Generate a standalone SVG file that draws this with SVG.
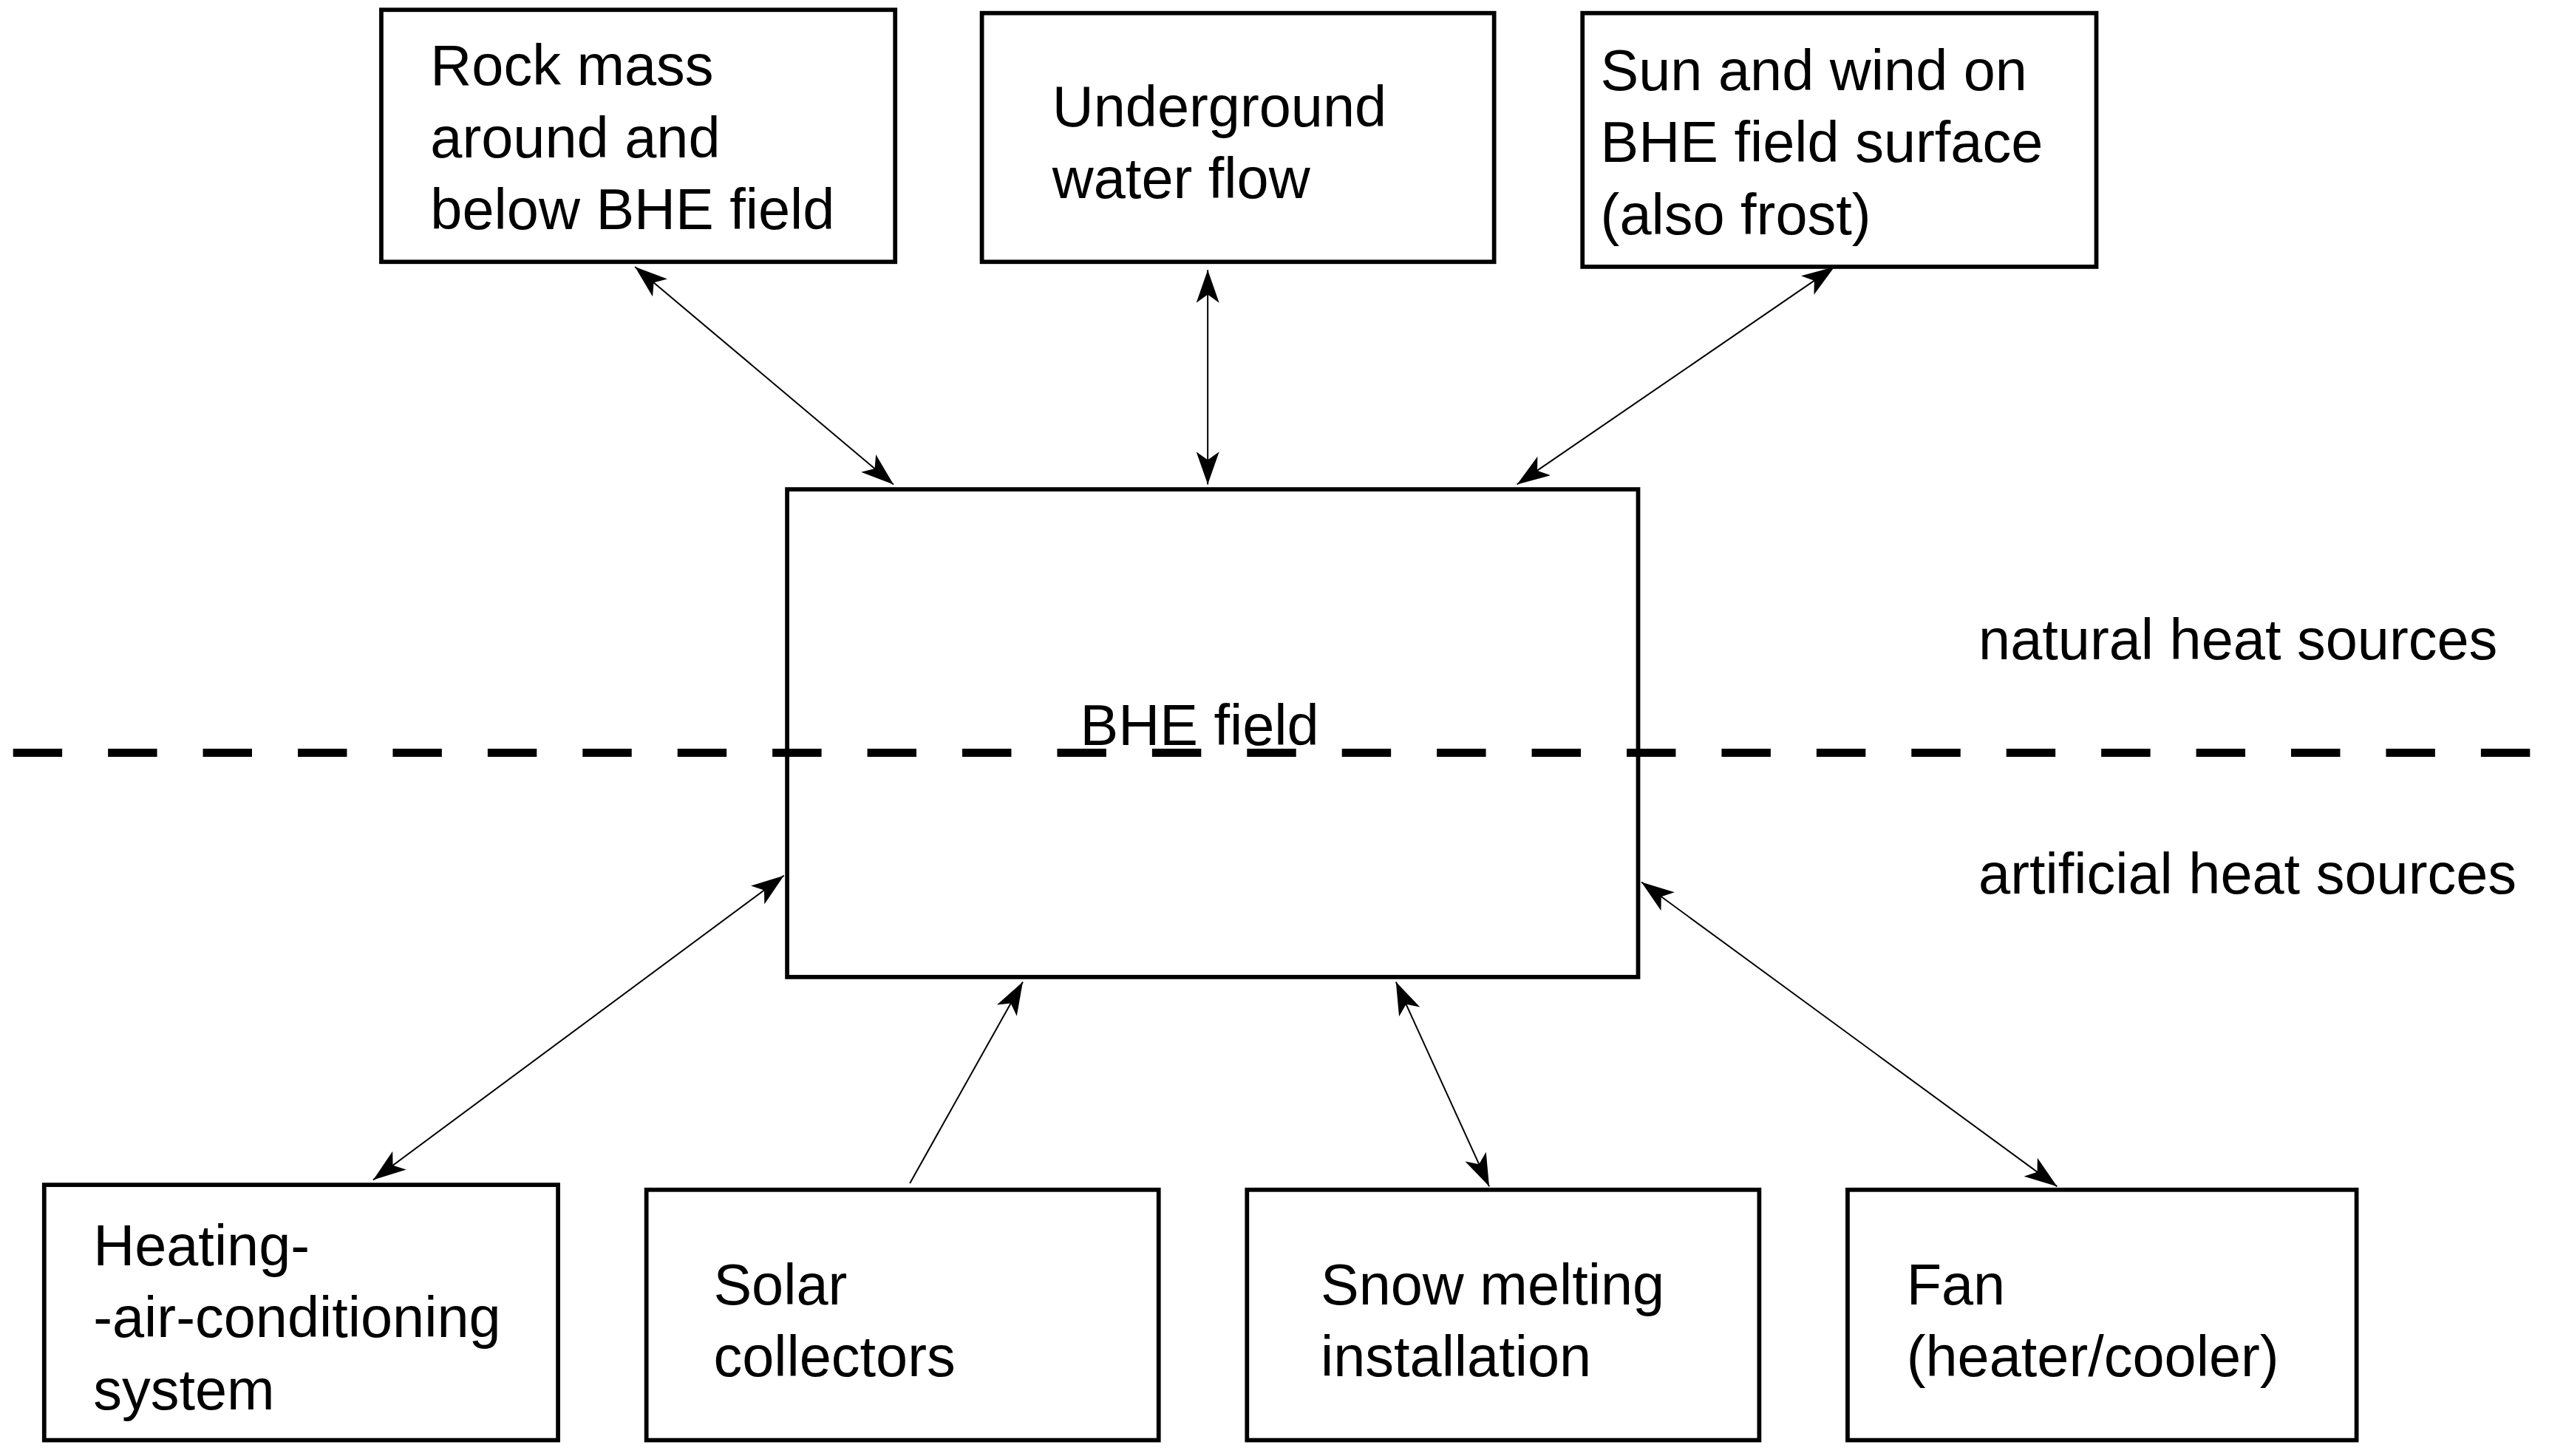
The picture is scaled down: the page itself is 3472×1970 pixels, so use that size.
<svg xmlns="http://www.w3.org/2000/svg" width="3472" height="1970" viewBox="0 0 3472 1970">
<style>
.b{fill:#fff;stroke:#000;stroke-width:2.6}
.t{font-family:"Liberation Sans",Arial,sans-serif;font-size:35px;fill:#000}
.c{stroke:#000;stroke-width:0.9;fill:none}
</style>
<defs>
<marker id="ah" viewBox="0 0 20 14" refX="20" refY="7" markerWidth="20" markerHeight="14" markerUnits="userSpaceOnUse" orient="auto-start-reverse">
<path d="M0,0 L20,7 L0,14 L5,7 Z" fill="#000"/>
</marker>
</defs>
<rect width="3472" height="1970" fill="#fff"/>
<g transform="scale(2.2143)">
<g id="connectors">
<line class="c" x1="388" y1="163" x2="546" y2="296" marker-start="url(#ah)" marker-end="url(#ah)"/>
<line class="c" x1="738" y1="165" x2="738" y2="296" marker-start="url(#ah)" marker-end="url(#ah)"/>
<line class="c" x1="1121" y1="163" x2="927" y2="296" marker-start="url(#ah)" marker-end="url(#ah)"/>
<line class="c" x1="479" y1="535" x2="228" y2="721" marker-start="url(#ah)" marker-end="url(#ah)"/>
<line class="c" x1="556" y1="723" x2="625" y2="600" marker-end="url(#ah)"/>
<line class="c" x1="853" y1="600" x2="910" y2="725" marker-start="url(#ah)" marker-end="url(#ah)"/>
<line class="c" x1="1003" y1="539" x2="1257" y2="725" marker-start="url(#ah)" marker-end="url(#ah)"/>
</g>
<g id="rock"><rect class="b" x="233" y="6" width="314" height="154"/>
<text class="t" x="263" y="52">Rock mass</text><text class="t" x="263" y="96">around and</text><text class="t" x="263" y="140">below BHE field</text></g>
<g id="water"><rect class="b" x="600" y="8" width="313" height="152"/>
<text class="t" x="643" y="77">Underground</text><text class="t" x="643" y="121">water flow</text></g>
<g id="sun"><rect class="b" x="967" y="8" width="314" height="155"/>
<text class="t" x="978" y="55">Sun and wind on</text><text class="t" x="978" y="99">BHE field surface</text><text class="t" x="978" y="143">(also frost)</text></g>
<g id="bhe"><rect class="b" x="481" y="299" width="520" height="298"/>
<text class="t" x="733" y="455" text-anchor="middle">BHE field</text></g>
<line x1="8" y1="460" x2="1562" y2="460" stroke="#000" stroke-width="5" stroke-dasharray="30,28"/>
<text class="t" x="1209" y="403">natural heat sources</text>
<text class="t" x="1209" y="546">artificial heat sources</text>
<g id="hvac"><rect class="b" x="27" y="724" width="314" height="156"/>
<text class="t" x="57" y="773">Heating-</text><text class="t" x="57" y="817">-air-conditioning</text><text class="t" x="57" y="861">system</text></g>
<g id="solar"><rect class="b" x="395" y="727" width="313" height="153"/>
<text class="t" x="436" y="797">Solar</text><text class="t" x="436" y="841">collectors</text></g>
<g id="snow"><rect class="b" x="762" y="727" width="313" height="153"/>
<text class="t" x="807" y="797">Snow melting</text><text class="t" x="807" y="841">installation</text></g>
<g id="fan"><rect class="b" x="1129" y="727" width="311" height="153"/>
<text class="t" x="1165" y="797">Fan</text><text class="t" x="1165" y="841">(heater/cooler)</text></g>
</g>
</svg>
